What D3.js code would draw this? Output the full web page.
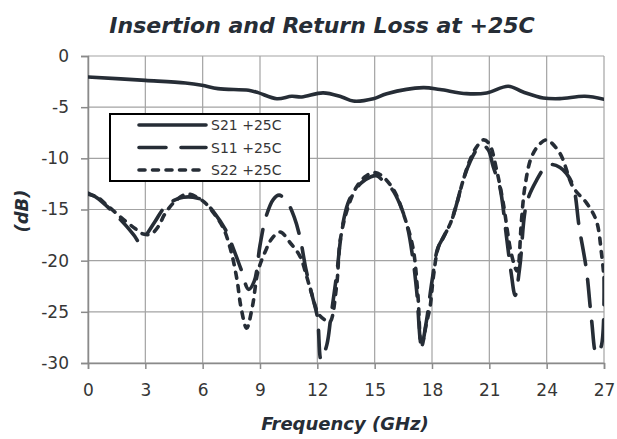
<!DOCTYPE html>
<html>
<head>
<meta charset="utf-8">
<script src="https://cdn.jsdelivr.net/npm/d3@7"></script>
<style>
  body { margin: 0; background: #fff; }
  svg { display: block; }
</style>
</head>
<body>
<div id="chart"></div>
<script>
// Insertion and Return Loss at +25C

const xTicks = [0, 3, 6, 9, 12, 15, 18, 21, 24, 27];
const yTicks = [0, -5, -10, -15, -20, -25, -30];

const seriesNames = ["S21 +25C", "S11 +25C", "S22 +25C"];

const freqS21 = [0, 3, 5.1, 5.96, 6.8, 8.4, 8.9, 9.88, 10.66, 11.19, 12.3, 13.28, 13.88, 14.93, 15.63, 17.54, 18.42, 19.81, 20.86, 21.99, 22.77, 23.82, 24.69, 26, 27];
const s21 = [-2.05, -2.38, -2.64, -2.86, -3.19, -3.35, -3.58, -4.17, -3.94, -4.0, -3.6, -4.0, -4.4, -4.17, -3.68, -3.09, -3.28, -3.68, -3.61, -2.96, -3.52, -4.1, -4.17, -3.94, -4.23];

const freqS11 = [0, 0.5, 1, 1.5, 2, 2.4, 2.7, 3, 3.5, 4, 4.5, 5, 5.5, 6, 6.6, 7.2, 7.6, 8, 8.4, 8.7, 9, 9.3, 9.7, 10, 10.4, 10.8, 11.1, 11.4, 11.7, 12, 12.2, 12.5, 12.7, 13, 13.3, 13.6, 13.9, 14.3, 14.8, 15.1, 15.5, 15.9, 16.3, 16.7, 17, 17.2, 17.45, 17.7, 18, 18.3, 18.6, 19, 19.3, 19.6, 20, 20.4, 20.65, 20.95, 21.2, 21.55, 21.9, 22.15, 22.35, 22.6, 22.95, 23.47, 24, 24.3, 24.7, 25.04, 25.4, 25.7, 26.08, 26.35, 26.6, 26.85, 27];
const s11 = [-13.4, -13.9, -14.7, -15.6, -16.6, -17.5, -18.2, -17.6, -16.2, -14.8, -14.1, -13.8, -13.8, -14.1, -15.3, -17.0, -18.8, -20.8, -22.8, -22.0, -18.5, -15.8, -14.0, -13.6, -14.2, -15.8, -17.8, -20.8, -23.2, -25.5, -29.7, -28.2, -25.6, -21.5, -16.8, -14.4, -13.3, -12.4, -11.8, -11.7, -12.3, -13.0, -14.4, -16.6, -19.8, -23.0, -28.3, -26.0, -22.0, -18.8, -17.7, -16.2, -14.4, -12.3, -10.3, -9.0, -8.7, -9.2, -10.8, -12.8, -17.7, -21.3, -23.4, -20.5, -14.4, -12.15, -10.7, -10.6, -10.9, -11.5, -12.8, -16.7, -20.9, -25.8, -29.1, -28.4, -21.5];

const freqS22 = [0, 0.5, 1, 1.5, 2, 2.5, 2.9, 3.3, 3.7, 4, 4.5, 5, 5.3, 5.7, 6.1, 6.6, 7.1, 7.5, 7.8, 8, 8.3, 8.6, 8.9, 9.3, 9.6, 10.05, 10.6, 11.1, 11.45, 11.7, 12.06, 12.4, 12.65, 13, 13.2, 13.55, 14.05, 14.5, 14.9, 15.3, 16, 16.5, 17, 17.25, 17.45, 17.7, 17.9, 18.07, 18.33, 18.6, 18.95, 19.3, 19.63, 19.98, 20.33, 20.7, 21, 21.4, 21.73, 22.16, 22.45, 22.68, 22.86, 23.2, 23.64, 24, 24.69, 25.38, 26.1, 26.6, 26.87, 27];
const s22 = [-13.5, -13.8, -14.6, -15.4, -16.2, -16.9, -17.4, -17.4, -16.6, -15.5, -14.3, -13.6, -13.5, -13.8, -14.3, -15.4, -16.9, -19.2, -21.9, -24.5, -26.6, -24.5, -21.0, -19.0, -17.9, -17.2, -18.3, -19.6, -21.6, -23.2, -25.2, -25.8, -26.0, -22.6, -18.0, -15.1, -12.8, -11.8, -11.4, -11.6, -13.1, -15.4, -18.7, -23.0, -28.4, -26.2, -24.5, -21.6, -18.7, -17.7, -16.4, -14.4, -12.15, -10.2, -8.9, -8.2, -8.6, -11.3, -14.4, -19.4, -21.0, -16.1, -12.8, -9.9, -8.6, -8.2, -9.5, -12.8, -14.4, -16.1, -19.3, -21.6];

const width = 617;
const height = 439;
const margin = {top: 56, right: 13, bottom: 76, left: 88};
const innerWidth = width - margin.left - margin.right;
const innerHeight = height - margin.top - margin.bottom;

const ink = "#262d36";
const gridColor = "#a3a3a3";
const font = "'DejaVu Sans', sans-serif";

const svg = d3.select("#chart")
    .append("svg")
    .attr("width", width)
    .attr("height", height);

const inner = svg.append("g")
    .attr("transform", `translate(${margin.left}, ${margin.top})`);

const xScale = d3.scaleLinear()
    .domain([0, 27])
    .range([0, innerWidth]);

const yScale = d3.scaleLinear()
    .domain([-30, 0])
    .range([innerHeight, 0]);

// grid
inner.append("g")
    .selectAll("line")
    .data(xTicks)
    .join("line")
    .attr("x1", d => xScale(d)).attr("x2", d => xScale(d))
    .attr("y1", 0).attr("y2", innerHeight)
    .attr("stroke", gridColor)
    .attr("stroke-width", 1.2);

inner.append("g")
    .selectAll("line")
    .data(yTicks)
    .join("line")
    .attr("x1", 0).attr("x2", innerWidth)
    .attr("y1", d => yScale(d)).attr("y2", d => yScale(d))
    .attr("stroke", gridColor)
    .attr("stroke-width", 1.2);

// axes
const xAxis = inner.append("g")
    .attr("transform", `translate(0, ${innerHeight})`)
    .call(d3.axisBottom(xScale).tickValues(xTicks).tickSize(6).tickPadding(14).tickFormat(d3.format("d")));

const yAxis = inner.append("g")
    .call(d3.axisLeft(yScale).tickValues(yTicks).tickSize(7).tickPadding(12).tickFormat(d => String(d)));

[xAxis, yAxis].forEach(ax => {
    ax.select(".domain").attr("stroke", "#8a8a8a").attr("stroke-width", 1.5);
    ax.selectAll(".tick line").attr("stroke", "#8a8a8a").attr("stroke-width", 1.5);
    ax.selectAll(".tick text")
        .attr("fill", "#363636")
        .style("font-family", font)
        .style("font-size", "17px");
});
xAxis.selectAll(".tick text").attr("dy", "0.75em");

// curves
inner.append("clipPath").attr("id", "clip")
    .append("rect").attr("width", innerWidth).attr("height", innerHeight + 4).attr("y", -2);

const line = d3.line()
    .x(d => xScale(d[0]))
    .y(d => yScale(d[1]))
    .curve(d3.curveCatmullRom.alpha(0.5));

const series = [
    {name: seriesNames[0], pts: d3.zip(freqS21, s21), dash: null},
    {name: seriesNames[1], pts: d3.zip(freqS11, s11), dash: "27,15"},
    {name: seriesNames[2], pts: d3.zip(freqS22, s22), dash: "6,7.5"}
];

const curves = inner.append("g").attr("clip-path", "url(#clip)");
// S22 first, S21 on top
[series[2], series[1], series[0]].forEach(s => {
    curves.append("path")
        .datum(s.pts)
        .attr("d", line)
        .attr("fill", "none")
        .attr("stroke", ink)
        .attr("stroke-width", 3.6)
        .attr("stroke-linecap", "round")
        .attr("stroke-linejoin", "round")
        .attr("stroke-dasharray", s.dash);
});

// legend
const legend = svg.append("g").attr("transform", "translate(110, 114)");
legend.append("rect")
    .attr("width", 199)
    .attr("height", 67)
    .attr("fill", "#fff")
    .attr("stroke", "#000")
    .attr("stroke-width", 2);

series.forEach((s, i) => {
    const yy = 11 + i * 22.5;
    legend.append("line")
        .attr("x1", 29).attr("x2", 96)
        .attr("y1", yy).attr("y2", yy)
        .attr("stroke", ink)
        .attr("stroke-width", 3.6)
        .attr("stroke-linecap", "round")
        .attr("stroke-dasharray", s.dash);
    legend.append("text")
        .attr("x", 101)
        .attr("y", yy)
        .attr("dy", "0.36em")
        .attr("fill", "#363636")
        .style("font-family", font)
        .style("font-size", "14px")
        .text(s.name);
});

// titles
svg.append("text")
    .attr("x", 322)
    .attr("y", 33)
    .attr("text-anchor", "middle")
    .attr("fill", ink)
    .style("font-family", font)
    .style("font-size", "22px")
    .style("font-weight", "bold")
    .style("font-style", "italic")
    .text("Insertion and Return Loss at +25C");

svg.append("text")
    .attr("x", 345)
    .attr("y", 430)
    .attr("text-anchor", "middle")
    .attr("fill", ink)
    .style("font-family", font)
    .style("font-size", "18px")
    .style("font-weight", "bold")
    .style("font-style", "italic")
    .text("Frequency (GHz)");

svg.append("text")
    .attr("transform", "translate(28, 211) rotate(-90)")
    .attr("text-anchor", "middle")
    .attr("fill", ink)
    .style("font-family", font)
    .style("font-size", "18px")
    .style("font-weight", "bold")
    .style("font-style", "italic")
    .text("(dB)");
</script>
</body>
</html>
